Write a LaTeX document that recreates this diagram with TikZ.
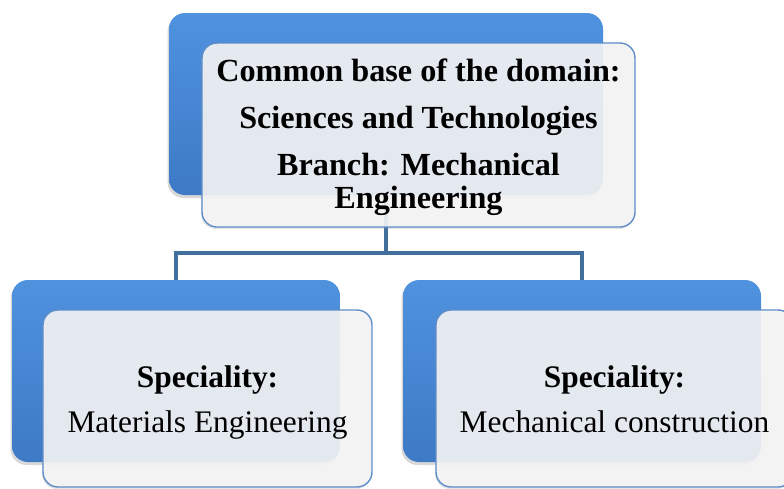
\documentclass[tikz,border=0pt]{standalone}
\usepackage{fontspec}
\setmainfont{Liberation Serif}
\usetikzlibrary{shadows}
\definecolor{bluetop}{HTML}{4F92DE}
\definecolor{bluemid}{HTML}{4486D4}
\definecolor{bluebot}{HTML}{3E7AC6}
\definecolor{linkblue}{HTML}{41709F}
\definecolor{frameblue}{HTML}{5E8DC8}
\definecolor{cardfill}{HTML}{F5F5F6}
\tikzset{
  backbox/.style={rectangle, rounded corners=16pt, draw=none,
    top color=bluetop, middle color=bluemid, bottom color=bluebot,
    drop shadow={shadow xshift=-1.5pt, shadow yshift=-3pt, opacity=0.3},
    inner sep=0pt},
  cardbox/.style={rectangle, rounded corners=15pt, draw=frameblue, line width=1.4pt,
    fill=cardfill, fill opacity=0.9, text opacity=1, align=center, inner sep=0pt,
    drop shadow={shadow xshift=-1pt, shadow yshift=-2pt, opacity=0.2}},
  link/.style={draw=linkblue, line width=4pt},
  bigfont/.style={font=\fontsize{32.2}{33}\selectfont},
  smallfont/.style={font=\fontsize{31.4}{32}\selectfont}
}
\begin{document}
\begin{tikzpicture}[x=1pt,y=-1pt]
\useasboundingbox (0,0) rectangle (784,488);
\fill[white] (0,0) rectangle (784,488);
% back boxes
\node[backbox, minimum width=434pt, minimum height=182pt] (topback) at (386,104) {};
\node[backbox, minimum width=328pt, minimum height=182pt] (lback) at (176,371) {};
\node[backbox, minimum width=358pt, minimum height=182pt] (rback) at (582,371) {};
% connectors
\draw[link] (topback.south) -- ++(0,58) -| (lback.north);
\draw[link] (topback.south) -- ++(0,58) -| (rback.north);
% cards
\node[cardbox, bigfont, minimum width=433pt, minimum height=184pt] (top) at (418.5,135)
  {\rule{0pt}{28pt}\textbf{Common base of the domain:}\\[14pt]
   \textbf{Sciences and Technologies}\\[14pt]
   \textbf{Branch: Mechanical}\\
   \textbf{Engineering}};
\node[cardbox, smallfont, minimum width=329pt, minimum height=177pt] (left) at (207.5,398.5)
  {\rule{0pt}{30pt}\textbf{Speciality:}\\[13.5pt] Materials Engineering\vphantom{g}};
\node[cardbox, smallfont, minimum width=357pt, minimum height=177pt] (right) at (614.5,398.5)
  {\rule{0pt}{30pt}\textbf{Speciality:}\\[13.5pt] Mechanical construction\vphantom{g}};
\end{tikzpicture}
\end{document}
